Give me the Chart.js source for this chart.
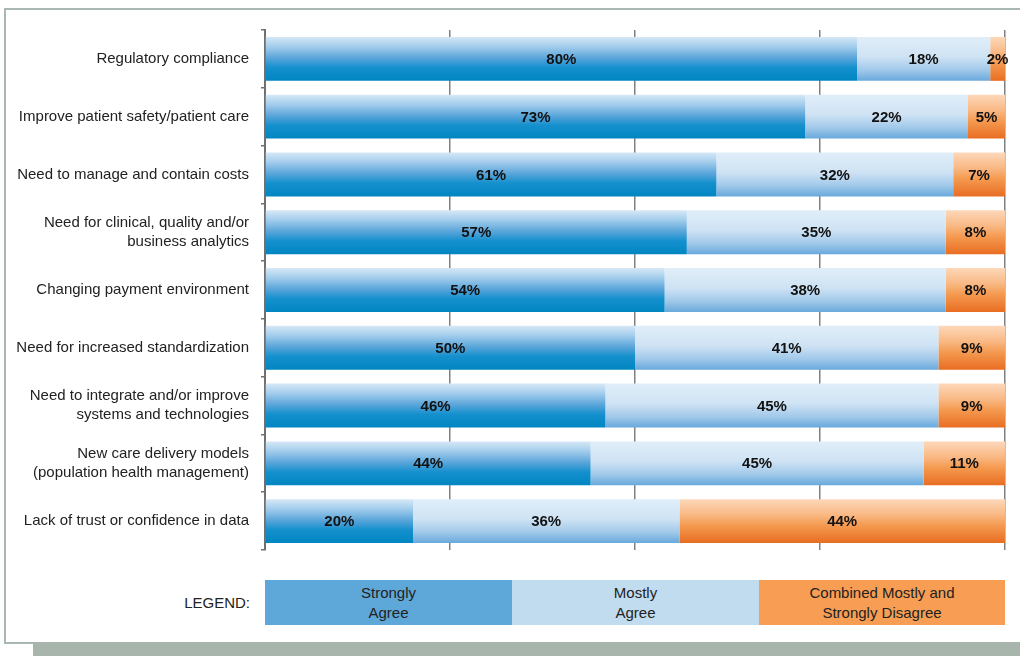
<!DOCTYPE html>
<html>
<head>
<meta charset="utf-8">
<script src="https://cdn.jsdelivr.net/npm/chart.js@4.4.1/dist/chart.umd.min.js"></script>
<style>
  html, body { margin: 0; padding: 0; background: #fff; }
  body { width: 1020px; height: 656px; position: relative; overflow: hidden;
         font-family: 'Liberation Sans', Arial, sans-serif; }
  #frameTop { position: absolute; left: 4px; top: 8px; width: 1016px; height: 2px; background: #a9b8b0; }
  #frameLeft { position: absolute; left: 4px; top: 8px; width: 2px; height: 636px; background: #a9b8b0; }
  #frameBottom { position: absolute; left: 4px; top: 642px; width: 30px; height: 2px; background: #a9b8b0; }
  #band { position: absolute; left: 33px; top: 642px; width: 987px; height: 14px; background: #a7b5ad; }
  #wrap { position: absolute; left: 0; top: 0; width: 1020px; height: 560px; }
  #legendLabel { position: absolute; left: 100px; width: 150px; top: 594px; text-align: right;
                 font-size: 15px; color: #222; }
  .lg { position: absolute; top: 580px; height: 45px; width: 247px; box-sizing: border-box;
        display: flex; align-items: center; justify-content: center; text-align: center;
        font-size: 15px; line-height: 20px; color: #222; }
</style>
</head>
<body>
<div id="frameTop"></div>
<div id="frameLeft"></div>
<div id="frameBottom"></div>
<div id="band"></div>
<div id="wrap"><canvas id="c"></canvas></div>
<div id="legendLabel">LEGEND:</div>
<div class="lg" style="left:265px;background:#5ea7d9;">Strongly<br>Agree</div>
<div class="lg" style="left:512px;background:#c2dcef;">Mostly<br>Agree</div>
<div class="lg" style="left:759px;width:246px;background:#f79e54;">Combined Mostly and<br>Strongly Disagree</div>
<script>
const categories = [
  'Regulatory compliance',
  'Improve patient safety/patient care',
  'Need to manage and contain costs',
  ['Need for clinical, quality and/or', 'business analytics'],
  'Changing payment environment',
  'Need for increased standardization',
  ['Need to integrate and/or improve', 'systems and technologies'],
  ['New care delivery models', '(population health management)'],
  'Lack of trust or confidence in data'
];
const stronglyAgree = [80, 73, 61, 57, 54, 50, 46, 44, 20];
const mostlyAgree   = [18, 22, 32, 35, 38, 41, 45, 45, 36];
const disagree      = [2, 5, 7, 8, 8, 9, 9, 11, 44];
const xTicks = [0, 25, 50, 75, 100];

const FONT = "'Liberation Sans', Arial, sans-serif";
const BAR_PCT = 0.76;

function gradFor(stops) {
  return function(ctx) {
    const chart = ctx.chart;
    const y = chart.scales && chart.scales.y;
    if (!chart.chartArea || !y || ctx.dataIndex === undefined) return stops[stops.length - 1][1];
    const cy = y.getPixelForValue(ctx.dataIndex);
    const step = (y.bottom - y.top) / categories.length;
    const h = step * BAR_PCT / 2;
    const g = chart.ctx.createLinearGradient(0, cy - h, 0, cy + h);
    stops.forEach(s => g.addColorStop(s[0], s[1]));
    return g;
  };
}

const blueStops = [[0, '#d6e8f6'], [0.22, '#a3cdec'], [0.48, '#5aa5da'], [0.7, '#1490cd'], [1, '#0086c1']];
const lightStops = [[0, '#e0eef9'], [0.45, '#cfe3f4'], [0.75, '#a2c9ea'], [1, '#68a9dc']];
const orangeStops = [[0, '#fdd8ba'], [0.35, '#f9b985'], [0.6, '#f49a50'], [1, '#e86d22']];

const valueLabels = {
  id: 'valueLabels',
  afterDatasetsDraw(chart) {
    const ctx = chart.ctx;
    ctx.save();
    ctx.font = 'bold 15px ' + FONT;
    ctx.fillStyle = '#111';
    ctx.textAlign = 'center';
    ctx.textBaseline = 'middle';
    chart.data.datasets.forEach((ds, i) => {
      const meta = chart.getDatasetMeta(i);
      meta.data.forEach((bar, j) => {
        const p = bar.getProps(['x', 'y', 'base'], true);
        ctx.fillText(ds.data[j] + '%', (p.x + p.base) / 2, p.y + 1);
      });
    });
    ctx.restore();
  }
};

new Chart(document.getElementById('c'), {
  type: 'bar',
  data: {
    labels: categories,
    datasets: [
      { label: 'Strongly Agree', data: stronglyAgree, backgroundColor: gradFor(blueStops) },
      { label: 'Mostly Agree', data: mostlyAgree, backgroundColor: gradFor(lightStops) },
      { label: 'Combined Mostly and Strongly Disagree', data: disagree, backgroundColor: gradFor(orangeStops) }
    ]
  },
  options: {
    indexAxis: 'y',
    responsive: true,
    maintainAspectRatio: false,
    animation: false,
    datasets: { bar: { barPercentage: BAR_PCT, categoryPercentage: 1, borderWidth: 0 } },
    layout: { padding: { top: 30, right: 15, bottom: 10, left: 0 } },
    plugins: { legend: { display: false }, tooltip: { enabled: false } },
    scales: {
      x: {
        stacked: true, min: 0, max: 100,
        afterBuildTicks(scale) { scale.ticks = xTicks.map(v => ({ value: v })); },
        afterFit(scale) { scale.height = 0; },
        ticks: { display: false },
        grid: { color: '#808080', lineWidth: 1.5, drawTicks: false },
        border: { display: false }
      },
      y: {
        stacked: true,
        afterFit(scale) { scale.width = 265; scale.paddingTop = 0; scale.paddingBottom = 0; },
        ticks: { color: '#222', padding: 12, font: { family: FONT, size: 15, lineHeight: 1.3 } },
        grid: { drawOnChartArea: false, drawTicks: true, tickLength: 4, color: '#707070', lineWidth: 1.5, offset: true },
        border: { display: true, color: '#707070', width: 2 }
      }
    }
  },
  plugins: [valueLabels]
});
</script>
</body>
</html>
